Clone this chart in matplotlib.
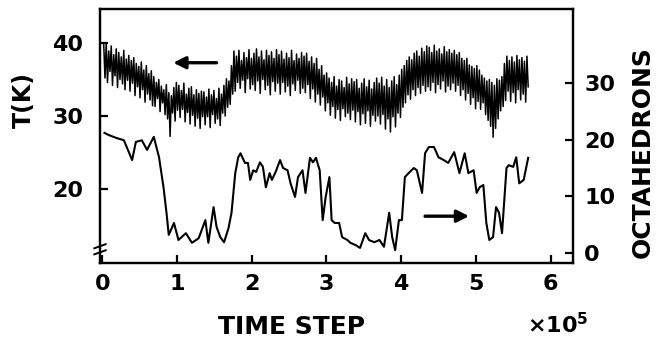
import matplotlib
matplotlib.use("Agg")
import matplotlib.pyplot as plt
import numpy as np

plt.rcParams["font.family"] = ["DejaVu Sans"]
plt.rcParams["font.weight"] = "bold"
plt.rcParams["mathtext.default"] = "regular"

# temperature trace, sampled evenly from 0.02 to 5.70 (x1e5 steps)
T_START, T_END = 0.02, 5.70
temperature = [
    39.8, 35.2, 40.0, 34.6, 38.9, 36.1, 39.6, 34.2, 38.4, 35.5, 39.2, 33.9, 38.7, 35.0, 38.1, 34.4, 39.0, 33.6, 37.8, 34.9,
    38.3, 33.4, 37.6, 34.5, 38.0, 32.8, 37.2, 34.0, 36.8, 32.5, 37.4, 33.6, 36.3, 31.9, 36.9, 33.0, 35.8, 32.2, 36.2, 31.4,
    35.4, 31.3, 34.6, 32.4, 35.0, 30.6, 34.1, 31.8, 33.6, 30.2, 34.3, 29.6, 33.2, 27.2, 32.8, 30.4, 33.9, 29.3, 34.6, 30.8,
    34.2, 29.8, 33.5, 30.9, 34.5, 29.2, 33.0, 30.5, 33.8, 28.9, 34.0, 30.1, 32.9, 28.6, 33.6, 29.7, 33.1, 28.3, 33.4, 29.9,
    33.3, 28.8, 32.6, 29.9, 33.7, 28.4, 32.9, 30.2, 33.5, 29.0, 32.4, 29.6, 33.8, 28.7, 33.0, 30.4, 34.2, 30.0, 35.1, 31.2,
    34.8, 31.6, 36.9, 33.0, 38.9, 33.4, 38.2, 34.6, 39.0, 33.8, 37.6, 34.9, 38.7, 33.2, 38.0, 35.1, 39.1, 33.7, 37.9, 34.3,
    38.6, 33.5, 39.2, 34.8, 38.1, 33.1, 38.9, 35.0, 37.7, 33.6, 39.0, 34.2, 38.3, 32.9, 38.8, 34.7, 37.9, 33.4, 39.1, 34.5,
    38.4, 33.0, 38.9, 34.6, 37.8, 33.3, 38.6, 34.1, 38.0, 32.8, 39.0, 34.4, 37.6, 33.5, 38.5, 34.9, 37.9, 33.1, 38.7, 33.8,
    38.2, 33.2, 38.6, 34.3, 37.5, 32.4, 38.1, 33.7, 37.2, 31.9, 37.9, 33.0, 36.4, 31.5, 36.9, 32.6, 35.6, 30.7, 35.9, 31.8,
    35.2, 30.1, 34.6, 31.3, 35.4, 29.7, 34.1, 30.9, 35.0, 29.4, 34.8, 31.0, 33.9, 29.9, 35.3, 30.4, 34.4, 29.5, 35.1, 30.8,
    34.7, 29.2, 35.0, 30.6, 33.8, 28.8, 34.5, 30.3, 35.1, 29.0, 34.0, 30.7, 34.9, 28.6, 33.7, 30.1, 34.6, 29.3, 35.2, 30.0,
    34.5, 28.9, 35.3, 30.2, 34.1, 28.2, 35.0, 29.6, 33.9, 27.8, 34.8, 29.9, 35.4, 28.5, 34.3, 30.4, 35.6, 29.8, 36.4, 31.2,
    36.9, 31.8, 37.6, 32.9, 38.1, 32.3, 37.7, 33.6, 38.6, 32.8, 38.9, 33.9, 38.2, 33.1, 39.3, 34.2, 38.8, 33.4, 39.6, 34.0,
    39.4, 33.5, 38.7, 34.6, 39.7, 33.2, 38.9, 34.3, 39.2, 33.7, 38.5, 34.8, 39.5, 33.3, 38.8, 34.1, 39.1, 33.6, 38.6, 34.5,
    39.0, 33.4, 38.4, 34.2, 38.7, 32.8, 37.9, 33.6, 37.6, 32.2, 37.9, 33.1, 37.0, 31.6, 36.8, 32.5, 36.5, 31.0, 36.9, 32.0,
    36.3, 30.9, 35.6, 31.8, 35.2, 30.2, 34.8, 29.4, 35.0, 28.6, 34.6, 27.1, 34.2, 28.3, 35.1, 29.6, 34.9, 30.7, 35.4, 31.3,
    37.2, 32.1, 38.2, 33.4, 37.6, 32.0, 38.1, 33.2, 37.4, 31.8, 38.3, 33.6, 37.7, 32.2, 38.0, 33.0, 37.5, 31.9, 38.2, 34.0,
]

# number of octahedrons vs time step (x1e5)
oct_step = [
    0.03, 0.09, 0.19, 0.29, 0.40, 0.45, 0.53, 0.60, 0.69, 0.76, 0.82, 0.86, 0.89, 0.96,
    1.02, 1.12, 1.20, 1.29, 1.38, 1.42, 1.49, 1.53, 1.58, 1.63, 1.69, 1.73, 1.78, 1.82,
    1.85, 1.91, 1.95, 1.98, 2.02, 2.06, 2.11, 2.15, 2.19, 2.24, 2.27, 2.32, 2.38, 2.42,
    2.48, 2.52, 2.58, 2.62, 2.68, 2.72, 2.78, 2.82, 2.86, 2.91, 2.95, 2.99, 3.04, 3.07,
    3.11, 3.17, 3.21, 3.28, 3.32, 3.39, 3.45, 3.52, 3.57, 3.64, 3.71, 3.77, 3.84, 3.88,
    3.92, 3.97, 4.01, 4.05, 4.10, 4.17, 4.21, 4.28, 4.32, 4.37, 4.44, 4.50, 4.57, 4.63,
    4.71, 4.78, 4.85, 4.90, 4.97, 5.01, 5.05, 5.10, 5.14, 5.18, 5.23, 5.27, 5.31, 5.35,
    5.41, 5.44, 5.50, 5.54, 5.58, 5.64, 5.70,
]
oct_count = [
    21.2, 20.8, 20.3, 19.9, 16.4, 19.6, 19.9, 18.2, 20.5, 16.9, 11.6, 7.1, 3.2, 5.3,
    2.3, 3.5, 1.8, 2.6, 5.8, 1.8, 8.1, 4.6, 2.8, 1.9, 4.4, 7.1, 14.1, 16.9,
    17.6, 15.9, 15.9, 12.9, 14.6, 14.3, 16.0, 15.2, 11.6, 14.1, 12.9, 14.3, 16.4, 15.0,
    14.6, 12.3, 9.9, 13.4, 14.6, 10.6, 16.8, 16.0, 16.8, 14.6, 5.8, 9.9, 13.4, 5.8,
    5.3, 5.3, 2.8, 2.3, 1.8, 1.4, 0.9, 3.5, 2.3, 1.9, 2.3, 1.1, 7.1, 2.8,
    0.5, 5.8, 5.8, 13.4, 14.1, 15.0, 14.6, 10.6, 17.6, 18.7, 18.7, 16.9, 16.4, 15.9,
    17.8, 14.1, 17.6, 14.1, 14.6, 10.6, 11.6, 12.0, 5.3, 2.3, 2.8, 8.1, 7.1, 3.5,
    15.0, 15.5, 15.2, 16.9, 12.3, 12.9, 16.8,
]

x_ticks = [0, 1, 2, 3, 4, 5, 6]
t_ticks = [20, 30, 40]
oct_ticks = [0, 10, 20, 30]

FS = 16
LABEL_FS = 18

fig = plt.figure(figsize=(6.72, 3.4), dpi=100)
ax = fig.add_axes([0.1488, 0.2265, 0.7039, 0.747])
ax2 = ax.twinx()

steps = np.linspace(T_START, T_END, len(temperature))
ax.plot(steps, temperature, color="black", lw=1.1, zorder=3)
ax2.plot(oct_step, oct_count, color="black", lw=1.5, zorder=3)

ax.set_xlim(-0.03, 6.30)
ax.set_ylim(9.86, 44.66)
ax2.set_ylim(-1.76, 43.06)

ax.set_xticks(x_ticks)
ax.set_yticks(t_ticks)
ax2.set_yticks(oct_ticks)

for a in (ax, ax2):
    for sp in a.spines.values():
        sp.set_linewidth(1.6)
    a.tick_params(direction="in", length=6, width=1.6, labelsize=FS)
ax.tick_params(axis="x", pad=8)
ax.tick_params(axis="y", pad=12)
ax2.tick_params(axis="y", pad=8)
for lab in ax.get_xticklabels() + ax.get_yticklabels() + ax2.get_yticklabels():
    lab.set_fontweight("bold")

# axis break mark on the left spine
for dy in (-0.012, 0.012):
    ax.plot([-0.012, 0.012], [0.054 + dy - 0.008, 0.054 + dy + 0.008],
            transform=ax.transAxes, color="black", lw=1.4, clip_on=False, zorder=5)

# direction arrows pointing to each curve's axis
ax.annotate("", xy=(0.95, 37.3), xytext=(1.53, 37.3),
            arrowprops=dict(arrowstyle="-|>", color="black", lw=2.4,
                            mutation_scale=18, shrinkA=0, shrinkB=0))
ax2.annotate("", xy=(4.91, 6.5), xytext=(4.32, 6.5),
             arrowprops=dict(arrowstyle="-|>", color="black", lw=2.4,
                             mutation_scale=18, shrinkA=0, shrinkB=0))

fig.text(24 / 672, 1 - 100 / 340, "T(K)", rotation=90, ha="center", va="center",
         fontsize=17, fontweight="bold")
fig.text(643 / 672, 1 - 152 / 340, "OCTAHEDRONS", rotation=90, ha="center", va="center",
         fontsize=LABEL_FS, fontweight="bold")
fig.text(291 / 672, 1 - 327 / 340, "TIME STEP", ha="center", va="center",
         fontsize=LABEL_FS, fontweight="bold")
fig.text(558 / 672, 1 - 325 / 340, r"$\times$10$^{5}$", ha="center", va="center",
         fontsize=FS, fontweight="bold")

fig.savefig("out.png", dpi=100, facecolor="white")
